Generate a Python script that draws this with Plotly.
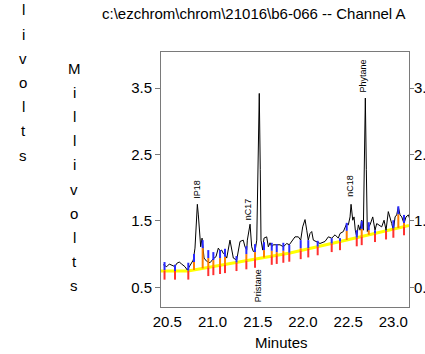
import numpy as np
import plotly.graph_objects as go

# ---------------- data ----------------
time_min = [20.455, 20.493, 20.522, 20.559, 20.585, 20.604, 20.632, 20.659, 20.695, 20.721,
            20.751, 20.787, 20.806, 20.820, 20.832, 20.843, 20.854, 20.869, 20.884, 20.895,
            20.906, 20.936, 20.953, 20.972, 21.009, 21.038, 21.064, 21.083, 21.101, 21.119,
            21.138, 21.157, 21.193, 21.212, 21.230, 21.267, 21.304, 21.340, 21.359, 21.378,
            21.385, 21.415, 21.433, 21.451, 21.470, 21.489, 21.503, 21.517, 21.528, 21.536,
            21.555, 21.569, 21.599, 21.617, 21.636, 21.655, 21.672, 21.710, 21.746, 21.783,
            21.821, 21.849, 21.876, 21.912, 21.949, 21.975, 21.997, 22.023, 22.042, 22.059,
            22.078, 22.097, 22.115, 22.152, 22.189, 22.244, 22.281, 22.318, 22.355, 22.391,
            22.410, 22.447, 22.484, 22.502, 22.521, 22.532, 22.551, 22.565, 22.579, 22.595,
            22.613, 22.631, 22.650, 22.668, 22.681, 22.690, 22.701, 22.712, 22.728, 22.742,
            22.772, 22.797, 22.816, 22.845, 22.871, 22.897, 22.919, 22.944, 22.963, 22.982,
            23.000, 23.019, 23.037, 23.055, 23.074, 23.093, 23.118, 23.140, 23.166, 23.179]

signal_mv = [0.84, 0.81, 0.85, 0.83, 0.81, 0.86, 0.88, 0.85, 0.81, 0.76,
             0.82, 0.91, 1.09, 1.44, 1.75, 1.59, 1.39, 1.11, 1.24, 1.09,
             0.94, 0.89, 0.88, 0.87, 0.93, 0.96, 1.09, 1.05, 1.06, 1.01,
             0.99, 0.94, 1.21, 1.04, 0.94, 0.91, 1.19, 1.21, 1.11, 1.06,
             1.21, 1.45, 1.11, 1.04, 1.04, 1.21, 2.12, 3.42, 2.27, 1.21,
             1.06, 1.24, 1.26, 1.11, 1.17, 1.11, 1.14, 1.14, 1.14, 1.11,
             1.16, 1.14, 1.19, 1.26, 1.26, 1.21, 1.41, 1.52, 1.36, 1.21,
             1.31, 1.34, 1.21, 1.19, 1.16, 1.19, 1.26, 1.24, 1.29, 1.24,
             1.31, 1.34, 1.46, 1.44, 1.56, 1.75, 1.51, 1.56, 1.36, 1.26,
             1.44, 1.36, 1.51, 1.36, 2.42, 3.35, 2.27, 1.34, 1.41, 1.44,
             1.56, 1.36, 1.46, 1.44, 1.41, 1.51, 1.36, 1.64, 1.56, 1.46,
             1.36, 1.56, 1.59, 1.71, 1.59, 1.56, 1.46, 1.56, 1.59, 1.54]

baseline_t = [20.43, 20.729, 21.525, 21.857, 22.484, 23.173]
baseline_mv = [0.745, 0.745, 0.937, 1.017, 1.212, 1.431]

marker_t = [20.469, 20.585, 20.732, 20.795, 20.891, 20.953, 21.009, 21.083, 21.138, 21.265,
            21.374, 21.470, 21.569, 21.655, 21.710, 21.783, 21.849, 21.975, 22.059, 22.163,
            22.318, 22.410, 22.484, 22.595, 22.650, 22.728, 22.797, 22.919, 23.000, 23.055,
            23.118]
marker_top = [0.88, 0.84, 0.87, 1.00, 1.21, 1.06, 1.03, 1.06, 1.08, 0.97,
              1.12, 1.15, 1.18, 1.17, 1.15, 1.17, 1.14, 1.21, 1.21, 1.20,
              1.24, 1.24, 1.47, 1.36, 1.50, 1.48, 1.36, 1.36, 1.51, 1.72,
              1.59]
marker_below = [1, 1, 1, 0, 0, 1, 1, 1, 1, 1,
                1, 1, 0, 1, 1, 1, 1, 1, 1, 1,
                1, 1, 0, 1, 1, 0, 1, 1, 1, 0,
                1]

peak_names = ["IP18", "nC17", "Pristane", "nC18", "Phytane"]
label_t = [20.825, 21.396, 21.506, 22.521, 22.668]
label_mv = [1.98, 1.68, 0.52, 2.03, 3.68]

x_ticks = [20.5, 21.0, 21.5, 22.0, 22.5, 23.0]
y_ticks = [0.5, 1.5, 2.5, 3.5]
title_text = "c:\\ezchrom\\chrom\\21016\\b6-066 -- Channel A"
x_title = "Minutes"
y_title = "Millivolts"

# ---------------- geometry ----------------
W, H = 425, 354
ML, MR, MT, MB = 161, 16, 52, 47
PW, PH = W - ML - MR, H - MT - MB
X_RANGE = [20.43, 23.173]
Y_RANGE = [0.203, 4.044]
FONT = "Liberation Sans, Arial, sans-serif"
AXC = "#7a7a7a"

def px_x(px):
    return (px - ML) / PW

def px_y(py):
    return (H - MB - py) / PH

# marker segments
mt = np.array(marker_t)
mtop = np.array(marker_top)
mbase = np.interp(mt, baseline_t, baseline_mv)
BLUE_LEN, RED_LEN = 0.12, 0.13
bx, by, ox, oy, rx, ry = [], [], [], [], [], []
for t, top, base, below in zip(mt, mtop, mbase, marker_below):
    bend = max(top - BLUE_LEN, base)
    bx += [t, t, None]; by += [top, bend, None]
    if bend > base:
        ox += [t, t, None]; oy += [bend, base, None]
    if below:
        rx += [t, t, None]; ry += [base, base - RED_LEN, None]

fig = go.Figure()
fig.add_trace(go.Scatter(x=baseline_t, y=baseline_mv, mode="lines",
                         line=dict(color="#ffff00", width=3), hoverinfo="skip"))
fig.add_trace(go.Scatter(x=time_min, y=signal_mv, mode="lines",
                         line=dict(color="#000000", width=1), hoverinfo="skip"))
fig.add_trace(go.Scatter(x=ox, y=oy, mode="lines",
                         line=dict(color="#ff8000", width=2), hoverinfo="skip"))
fig.add_trace(go.Scatter(x=rx, y=ry, mode="lines",
                         line=dict(color="#ff3030", width=2), hoverinfo="skip"))
fig.add_trace(go.Scatter(x=bx, y=by, mode="lines",
                         line=dict(color="#2a2aff", width=2), hoverinfo="skip"))
# invisible trace to activate right axis
fig.add_trace(go.Scatter(x=[None], y=[None], yaxis="y2", showlegend=False))

annotations = []
for name, t, v in zip(peak_names, label_t, label_mv):
    annotations.append(dict(x=t, y=v, xref="x", yref="y", text=name, textangle=-90,
                            showarrow=False, font=dict(size=9, color="#000"),
                            xanchor="center", yanchor="middle"))
annotations.append(dict(x=px_x(253.5), y=px_y(13), xref="paper", yref="paper",
                        text=title_text, showarrow=False,
                        font=dict(size=15, color="#000"), xanchor="center", yanchor="middle"))
annotations.append(dict(x=px_x(281.5), y=px_y(342), xref="paper", yref="paper",
                        text=x_title, showarrow=False,
                        font=dict(size=15, color="#000"), xanchor="center", yanchor="middle"))
for i, ch in enumerate(y_title):
    annotations.append(dict(x=px_x(74), y=px_y(68 + 24.2 * i), xref="paper", yref="paper",
                            text=ch, showarrow=False, font=dict(size=15, color="#000"),
                            xanchor="center", yanchor="middle"))
    annotations.append(dict(x=px_x(23), y=px_y(155 - 24.2 * (len(y_title) - 1 - i)),
                            xref="paper", yref="paper",
                            text=ch, showarrow=False, font=dict(size=15, color="#000"),
                            xanchor="center", yanchor="middle"))

fig.update_layout(
    template="none",
    width=W, height=H,
    margin=dict(l=ML, r=MR, t=MT, b=MB, pad=0),
    paper_bgcolor="white", plot_bgcolor="white",
    showlegend=False,
    font=dict(family=FONT, size=15, color="#000"),
    annotations=annotations,
    xaxis=dict(range=X_RANGE, tickvals=x_ticks,
               ticktext=[f"{v:.1f}" for v in x_ticks],
               showgrid=False, zeroline=False, showline=True, linecolor=AXC,
               linewidth=1, mirror=True, ticks="outside", ticklen=1,
               tickcolor="rgba(0,0,0,0)", automargin=False,
               tickfont=dict(size=15)),
    yaxis=dict(range=Y_RANGE, tickvals=y_ticks,
               ticktext=[f"{v:.1f}" for v in y_ticks],
               showgrid=False, zeroline=False, showline=True, linecolor=AXC,
               linewidth=1, ticks="outside", ticklen=5, tickcolor=AXC,
               automargin=False, tickfont=dict(size=15)),
    yaxis2=dict(range=Y_RANGE, tickvals=y_ticks,
                ticktext=[f"{v:.1f}" for v in y_ticks],
                overlaying="y", side="right",
                showgrid=False, zeroline=False, showline=True, linecolor=AXC,
                linewidth=1, ticks="outside", ticklen=4, tickcolor=AXC,
                ticklabelstandoff=-3,
                automargin=False, tickfont=dict(size=15)),
)

fig.write_html("out.html", config={"displayModeBar": False},
               post_script="document.body.style.margin='0';document.body.style.padding='0';")
